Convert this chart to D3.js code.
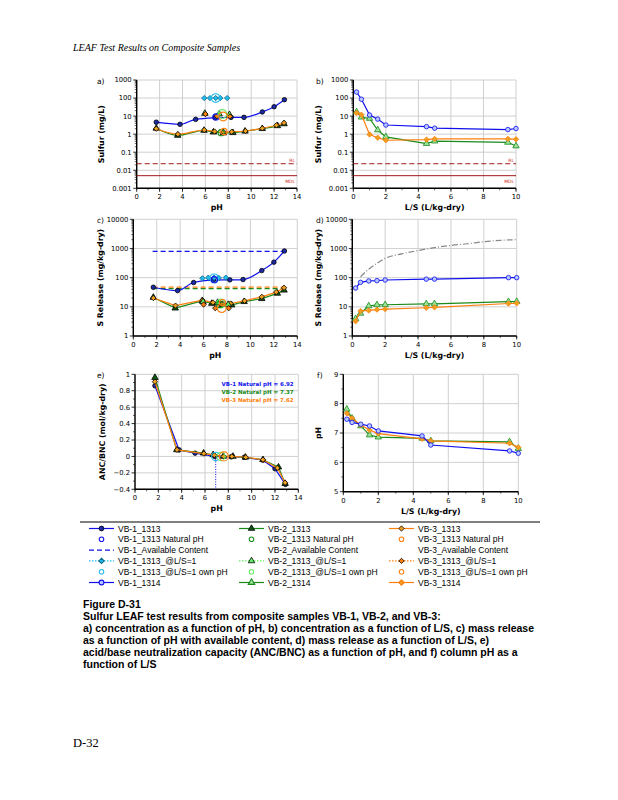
<!DOCTYPE html>
<html>
<head>
<meta charset="utf-8">
<script src="https://cdnjs.cloudflare.com/ajax/libs/d3/7.8.5/d3.min.js"></script>
<style>
  body { margin: 0; background: #fff; }
  svg { display: block; }
  text { font-family: "DejaVu Sans", Verdana, sans-serif; }
</style>
</head>
<body>
<div id="graph"></div>
<script>
// ---- data ----
// 1313 (pH dependence)
var vb1_pH   = [1.71, 3.78, 5.15, 6.84, 8.24, 9.37, 10.97, 12.0, 12.9]
var vb1_conc = [4.6, 3.5, 6.6, 8.1, 8.5, 8.5, 17, 33, 81]
var vb1_rel  = [47, 36, 68, 82, 84, 86, 175, 340, 820]
var vb1_anc  = [0.86, 0.08, 0.04, 0.0, -0.005, -0.01, -0.045, -0.15, -0.34]

var vb2_pH   = [1.71, 3.58, 5.88, 6.7, 7.57, 8.4, 9.46, 10.97, 12.3, 12.87]
var vb2_conc = [2.1, 0.85, 1.6, 1.3, 1.15, 1.2, 1.45, 2.0, 2.9, 3.7]
var vb2_rel  = [21, 9, 16, 13, 12, 11.5, 15, 19, 29, 37]
var vb2_anc  = [0.96, 0.08, 0.04, 0.02, 0.0, 0.0, -0.01, -0.04, -0.13, -0.33]

var vb3_pH   = [1.71, 3.6, 5.9, 6.8, 7.6, 8.3, 9.5, 10.97, 12.2, 12.87]
var vb3_conc = [2.0, 1.0, 1.7, 1.4, 1.3, 1.35, 1.5, 2.1, 3.1, 4.2]
var vb3_rel  = [20, 11, 17, 14, 13, 13, 16, 22, 32, 45]
var vb3_anc  = [0.91, 0.08, 0.035, 0.015, 0.0, 0.0, -0.01, -0.04, -0.14, -0.32]

// natural pH points
var natPH   = [6.92, 7.37, 7.62]
var natConc = [9.0, 1.2, 1.4]
var natRel  = [85, 12, 14]

// @L/S=1 points (pH, conc, release)
var ls1_vb1_pH = [5.9, 6.4, 6.9, 7.3, 7.9]
var ls1_vb1_conc = [100, 100, 100, 100, 100]
var ls1_vb1_rel = [95, 100, 100, 98, 100]
var ls1_vb2_pH = [5.95, 7.2, 8.1]
var ls1_vb2_conc = [14, 13, 12]
var ls1_vb2_rel = [15, 14, 12]
var ls1_vb3_pH = [6.0, 7.0, 8.15]
var ls1_vb3_conc = [13, 10, 9.5]
var ls1_vb3_rel = [12, 9, 9]
var ownPH = [6.9, 7.48, 7.55]
var ownConc = [100, 13, 9.5]
var ownRel = [95, 13, 9]

// available content (mg/kg-dry)
var availPH = [1.65, 12.87]
var avail = [790, 42, 47]

// 1314 (column, L/S)
var ls = [0.2, 0.5, 1.0, 1.5, 2.0, 4.5, 5.0, 9.5, 10.0]
var vb1_1314_conc = [215, 86, 11.5, 6.8, 3.2, 2.6, 2.15, 1.8, 2.05]
var vb2_1314_conc = [17, 8.7, 7.4, 1.7, 0.71, 0.30, 0.41, 0.35, 0.22]
var vb3_1314_conc = [15, 12, 0.96, 0.63, 0.46, 0.5, 0.55, 0.55, 0.52]
var vb1_cum = [44, 69, 77, 79, 83, 89, 89, 100, 100]
var vb2_cum = [3.9, 6, 10.7, 11.7, 11.8, 12.6, 12.7, 15, 15.2]
var vb3_cum = [3.2, 7.2, 7.5, 8, 8.3, 9.3, 9.6, 13, 13.2]
var vb1_colpH = [7.47, 7.36, 7.3, 7.24, 7.07, 6.9, 6.59, 6.39, 6.31]
var vb2_colpH = [7.81, 7.5, 7.24, 6.93, 6.86, 6.82, 6.73, 6.7, 6.47]
var vb3_colpH = [7.67, 7.5, 7.27, 7.1, 6.98, 6.8, 6.73, 6.65, 6.51]

// grey dash-dot curve in d)
var greyLS  = [0.5, 1.0, 1.5, 2, 3, 4, 5, 6, 7, 8, 9, 10]
var greyRel = [107, 195, 310, 460, 650, 850, 1070, 1270, 1450, 1700, 1900, 2000]

// reporting limits in a) and b)
var limits = [0.023, 0.005]
var limitLabels = ['RL', 'MDL']

var legendCols = [
  ['VB-1_1313', 'VB-1_1313 Natural pH', 'VB-1_Available Content', 'VB-1_1313_@L/S=1', 'VB-1_1313_@L/S=1 own pH', 'VB-1_1314'],
  ['VB-2_1313', 'VB-2_1313 Natural pH', 'VB-2_Available Content', 'VB-2_1313_@L/S=1', 'VB-2_1313_@L/S=1 own pH', 'VB-2_1314'],
  ['VB-3_1313', 'VB-3_1313 Natural pH', 'VB-3_Available Content', 'VB-3_1313_@L/S=1', 'VB-3_1313_@L/S=1 own pH', 'VB-3_1314']
]

var captionLines = [
  'Figure D-31',
  'Sulfur LEAF test results from composite samples VB-1, VB-2, and VB-3:',
  'a) concentration as a function of pH, b) concentration as a function of L/S, c) mass release',
  'as a function of pH with available content, d) mass release as a function of L/S, e)',
  'acid/base neutralization capacity (ANC/BNC) as a function of pH, and f) column pH as a',
  'function of L/S'
]

// ---- colours ----
var blue = '#1010ee', dblue = '#1a2aa8', green = '#1a8a1a', dgreen = '#105a10',
    orange = '#ff7f0e', gold = '#f0a020', cyan = '#22bbee', lgreen = '#66ee66',
    dred = '#a01818'

var svg = d3.select('#graph').append('svg').attr('width', 618).attr('height', 800)

svg.append('text').attr('x', 73).attr('y', 51)
  .style('font-family', '"Liberation Serif", serif').style('font-style', 'italic')
  .attr('font-size', 10).text('LEAF Test Results on Composite Samples')

svg.append('text').attr('x', 73).attr('y', 747)
  .style('font-family', '"Liberation Serif", serif')
  .attr('font-size', 12.5).text('D-32')

var DIAM = d3.symbolDiamond2, TRI = d3.symbolTriangle, CIRC = d3.symbolCircle

function sym(type, size) {
  return d3.symbol().type(type).size(size)()
}

// generic panel
function panel(o) {
  var g = svg.append('g')
  var x = d3.scaleLinear().domain(o.xd).range([o.l, o.r])
  var y = (o.log ? d3.scaleLog() : d3.scaleLinear()).domain(o.yd).range([o.b, o.t])

  // grid
  g.selectAll('line.gx').data(o.xt).enter().append('line')
    .attr('x1', d => x(d)).attr('x2', d => x(d)).attr('y1', o.t).attr('y2', o.b)
    .attr('stroke', '#cbcbcb').attr('stroke-width', 0.9)
  g.selectAll('line.gy').data(o.yt).enter().append('line')
    .attr('x1', o.l).attr('x2', o.r).attr('y1', d => y(d)).attr('y2', d => y(d))
    .attr('stroke', '#cbcbcb').attr('stroke-width', 0.9)

  // minor ticks
  var minorY = []
  if (o.log) {
    o.yt.forEach(function(d, i) {
      if (i < o.yt.length - 1) for (var k = 2; k < 10; k++) minorY.push(d * k)
    })
  } else {
    minorY = o.yminor || []
  }
  g.selectAll('line.my').data(minorY).enter().append('line')
    .attr('x1', o.l - 2).attr('x2', o.l).attr('y1', d => y(d)).attr('y2', d => y(d))
    .attr('stroke', '#000').attr('stroke-width', 0.6)
  g.selectAll('line.ty').data(o.yt).enter().append('line')
    .attr('x1', o.l - 3.5).attr('x2', o.l).attr('y1', d => y(d)).attr('y2', d => y(d))
    .attr('stroke', '#000').attr('stroke-width', 0.8)
  var minorX = d3.range(o.xd[0], o.xd[1] + 0.01, o.xminor)
  g.selectAll('line.mx').data(minorX).enter().append('line')
    .attr('x1', d => x(d)).attr('x2', d => x(d)).attr('y1', o.b).attr('y2', o.b + 2)
    .attr('stroke', '#000').attr('stroke-width', 0.6)
  g.selectAll('line.tx').data(o.xt).enter().append('line')
    .attr('x1', d => x(d)).attr('x2', d => x(d)).attr('y1', o.b).attr('y2', o.b + 3.5)
    .attr('stroke', '#000').attr('stroke-width', 0.8)

  g.append('line').attr('x1', o.l).attr('x2', o.l).attr('y1', o.t).attr('y2', o.b)
    .attr('stroke', '#000').attr('stroke-width', 1.4)
  g.append('line').attr('x1', o.l).attr('x2', o.r).attr('y1', o.b).attr('y2', o.b)
    .attr('stroke', '#000').attr('stroke-width', 1.4)

  // tick labels
  g.selectAll('text.xl').data(o.xt).enter().append('text')
    .attr('x', d => x(d)).attr('y', o.b + 11).attr('text-anchor', 'middle')
    .attr('font-size', 6.8).text(d => d)
  g.selectAll('text.yl').data(o.yt).enter().append('text')
    .attr('x', o.l - 5).attr('y', d => y(d) + 2.4).attr('text-anchor', 'end')
    .attr('font-size', 6.8).text(o.yfmt || (d => d))

  // titles
  g.append('text').attr('x', (o.l + o.r) / 2).attr('y', o.b + 22).attr('text-anchor', 'middle')
    .attr('font-size', 7.8).attr('font-weight', 'bold').text(o.xlab)
  g.append('text').attr('transform', 'translate(' + o.ylx + ',' + ((o.t + o.b) / 2) + ') rotate(-90)')
    .attr('text-anchor', 'middle').attr('font-size', 7.8).attr('font-weight', 'bold').text(o.ylab)
  g.append('text').attr('x', o.lx).attr('y', o.t + 4).attr('font-size', 7.5).text(o.letter)

  return { g: g, x: x, y: y }
}

function series(p, xs, ys, o) {
  var pts = xs.map((d, i) => [d, ys[i]])
  if (o.stroke) {
    p.g.append('path').datum(pts)
      .attr('d', d3.line().x(d => p.x(d[0])).y(d => p.y(d[1])).curve(o.curve || d3.curveLinear))
      .attr('fill', 'none').attr('stroke', o.stroke).attr('stroke-width', o.sw || 1.2)
      .attr('stroke-dasharray', o.dash || null)
  }
  if (o.shape) {
    var sz = o.size || (o.shape == CIRC ? 16 : 18)
    p.g.selectAll(null).data(pts).enter().append('path')
      .attr('d', sym(o.shape, sz))
      .attr('transform', d => 'translate(' + p.x(d[0]) + ',' + p.y(d[1]) + ')')
      .attr('fill', o.fill || 'none').attr('stroke', o.mstroke || '#000')
      .attr('stroke-width', o.msw || 0.8)
  }
}

var logFmt = d => d >= 1 ? d3.format('d')(d) : d3.format('')(d)

function ownAndNat(p, xs, ysOwn, ysNat) {
  var cols = [[cyan, blue], [lgreen, green], [orange, orange]]
  xs.forEach(function(v, i) {
    series(p, [ownPH[i]], [ysOwn[i]], { shape: CIRC, size: 60, mstroke: cols[i][0], msw: 1.1 })
    series(p, [natPH[i]], [ysNat[i]], { shape: CIRC, size: 30, mstroke: cols[i][1], msw: 1.1 })
  })
}

// ---- a) ----
var pa = panel({ l: 136.7, r: 297, t: 80, b: 188.3, xd: [0, 14], yd: [0.001, 1000], log: true,
  xt: d3.range(0, 15, 2), yt: [0.001, 0.01, 0.1, 1, 10, 100, 1000], xminor: 1,
  xlab: 'pH', ylab: 'Sulfur (mg/L)', ylx: 104, letter: 'a)', lx: 97, yfmt: logFmt })
limits.forEach(function(v, i) {
  pa.g.append('line').attr('x1', pa.x(0)).attr('x2', pa.x(14)).attr('y1', pa.y(v)).attr('y2', pa.y(v))
    .attr('stroke', dred).attr('stroke-width', 1).attr('stroke-dasharray', i == 0 ? '5,3' : null)
  pa.g.append('text').attr('x', pa.x(14) - 2).attr('y', pa.y(v) + (i == 0 ? -2 : 7)).attr('text-anchor', 'end')
    .attr('font-size', 4.5).attr('fill', '#cc2222').text(limitLabels[i])
})
series(pa, vb2_pH, vb2_conc, { stroke: green, curve: d3.curveMonotoneX, shape: TRI, fill: dgreen })
series(pa, vb3_pH, vb3_conc, { stroke: orange, curve: d3.curveMonotoneX, shape: DIAM, fill: gold })
series(pa, vb1_pH, vb1_conc, { stroke: blue, curve: d3.curveMonotoneX, shape: CIRC, fill: dblue })
series(pa, ls1_vb1_pH, ls1_vb1_conc, { shape: DIAM, fill: cyan, mstroke: '#0a6a8a' })
series(pa, ls1_vb2_pH, ls1_vb2_conc, { shape: TRI, fill: lgreen, mstroke: '#000' })
series(pa, ls1_vb3_pH, ls1_vb3_conc, { shape: DIAM, fill: orange, mstroke: '#000' })
ownAndNat(pa, ownPH, ownConc, natConc)

// ---- b) ----
var pb = panel({ l: 353.3, r: 516, t: 80, b: 188.3, xd: [0, 10], yd: [0.001, 1000], log: true,
  xt: d3.range(0, 11, 2), yt: [0.001, 0.01, 0.1, 1, 10, 100, 1000], xminor: 1,
  xlab: 'L/S (L/kg-dry)', ylab: 'Sulfur (mg/L)', ylx: 321, letter: 'b)', lx: 316, yfmt: logFmt })
limits.forEach(function(v, i) {
  pb.g.append('line').attr('x1', pb.x(0)).attr('x2', pb.x(10)).attr('y1', pb.y(v)).attr('y2', pb.y(v))
    .attr('stroke', dred).attr('stroke-width', 1).attr('stroke-dasharray', i == 0 ? '5,3' : null)
  pb.g.append('text').attr('x', pb.x(10) - 2).attr('y', pb.y(v) + (i == 0 ? -2 : 7)).attr('text-anchor', 'end')
    .attr('font-size', 4.5).attr('fill', '#cc2222').text(limitLabels[i])
})
series(pb, ls, vb2_1314_conc, { stroke: green, shape: TRI, fill: '#9be29b', mstroke: green })
series(pb, ls, vb3_1314_conc, { stroke: orange, shape: DIAM, fill: gold, mstroke: orange })
series(pb, ls, vb1_1314_conc, { stroke: blue, shape: CIRC, fill: '#b8c8ff', mstroke: blue })

// ---- c) ----
var pc = panel({ l: 133.3, r: 297.3, t: 219.3, b: 336, xd: [0, 14], yd: [1, 10000], log: true,
  xt: d3.range(0, 15, 2), yt: [1, 10, 100, 1000, 10000], xminor: 1,
  xlab: 'pH', ylab: 'S Release (mg/kg-dry)', ylx: 103, letter: 'c)', lx: 97, yfmt: logFmt })
series(pc, availPH, [avail[0], avail[0]], { stroke: blue, dash: '5,3' })
series(pc, availPH, [avail[1], avail[1]], { stroke: green, dash: '5,3' })
series(pc, availPH, [avail[2], avail[2]], { stroke: orange, dash: '5,3' })
series(pc, vb2_pH, vb2_rel, { stroke: green, shape: TRI, fill: dgreen })
series(pc, vb3_pH, vb3_rel, { stroke: orange, shape: DIAM, fill: gold })
series(pc, vb1_pH, vb1_rel, { stroke: blue, curve: d3.curveMonotoneX, shape: CIRC, fill: dblue })
series(pc, ls1_vb1_pH, ls1_vb1_rel, { shape: DIAM, fill: cyan, mstroke: '#0a6a8a' })
series(pc, ls1_vb2_pH, ls1_vb2_rel, { shape: TRI, fill: lgreen })
series(pc, ls1_vb3_pH, ls1_vb3_rel, { shape: DIAM, fill: orange })
ownAndNat(pc, ownPH, ownRel, natRel)

// ---- d) ----
var pd = panel({ l: 352.3, r: 516.7, t: 219.3, b: 336, xd: [0, 10], yd: [1, 10000], log: true,
  xt: d3.range(0, 11, 2), yt: [1, 10, 100, 1000, 10000], xminor: 1,
  xlab: 'L/S (L/kg-dry)', ylab: 'S Release (mg/kg-dry)', ylx: 321, letter: 'd)', lx: 316, yfmt: logFmt })
series(pd, greyLS, greyRel, { stroke: '#888', dash: '6,2,1,2', curve: d3.curveMonotoneX })
series(pd, ls, vb2_cum, { stroke: green, shape: TRI, fill: '#9be29b', mstroke: green })
series(pd, ls, vb3_cum, { stroke: orange, shape: DIAM, fill: gold, mstroke: orange })
series(pd, ls, vb1_cum, { stroke: blue, shape: CIRC, fill: '#b8c8ff', mstroke: blue })

// ---- e) ----
var pe = panel({ l: 135, r: 298.3, t: 374.3, b: 489.3, xd: [0, 14], yd: [-0.4, 1], log: false,
  xt: d3.range(0, 15, 2), yt: [-0.4, -0.2, 0, 0.2, 0.4, 0.6, 0.8, 1], xminor: 1,
  yminor: [-0.3, -0.1, 0.1, 0.3, 0.5, 0.7, 0.9],
  xlab: 'pH', ylab: 'ANC/BNC (mol/kg-dry)', ylx: 105, letter: 'e)', lx: 97, yfmt: d3.format('') })
pe.g.append('line').attr('x1', pe.x(natPH[0])).attr('x2', pe.x(natPH[0]))
  .attr('y1', pe.y(0)).attr('y2', pe.y(-0.4))
  .attr('stroke', blue).attr('stroke-width', 1).attr('stroke-dasharray', '1,1.5')
series(pe, vb1_pH, vb1_anc, { stroke: blue, shape: CIRC, fill: dblue })
series(pe, vb2_pH, vb2_anc, { stroke: green, shape: TRI, fill: dgreen })
series(pe, vb3_pH, vb3_anc, { stroke: orange, shape: DIAM, fill: gold })
series(pe, [natPH[0]], [0], { shape: CIRC, size: 55, mstroke: cyan, msw: 1.1 })
series(pe, [natPH[1]], [0], { shape: CIRC, size: 55, mstroke: lgreen, msw: 1.1 })
series(pe, [natPH[2]], [0], { shape: CIRC, size: 65, mstroke: orange, msw: 1.1 })
var natCols = [blue, green, orange]
natPH.forEach(function(v, i) {
  pe.g.append('text').attr('x', pe.x(13.6)).attr('y', pe.y(0.86 - i * 0.1)).attr('text-anchor', 'end')
    .attr('font-size', 5.5).attr('font-weight', 'bold').attr('fill', natCols[i])
    .text('VB-' + (i + 1) + ' Natural pH = ' + v)
})

// ---- f) ----
var pf = panel({ l: 343.3, r: 518.3, t: 374.3, b: 491.7, xd: [0, 10], yd: [5, 9], log: false,
  xt: d3.range(0, 11, 2), yt: [5, 6, 7, 8, 9], xminor: 1, yminor: [5.5, 6.5, 7.5, 8.5],
  xlab: 'L/S (L/kg-dry)', ylab: 'pH', ylx: 321, letter: 'f)', lx: 317 })
series(pf, ls, vb2_colpH, { stroke: green, shape: TRI, fill: '#9be29b', mstroke: green })
series(pf, ls, vb3_colpH, { stroke: orange, shape: DIAM, fill: gold, mstroke: orange })
series(pf, ls, vb1_colpH, { stroke: blue, shape: CIRC, fill: '#b8c8ff', mstroke: blue })

// ---- legend ----
svg.append('line').attr('x1', 80).attr('x2', 540).attr('y1', 522).attr('y2', 522)
  .attr('stroke', '#000').attr('stroke-width', 1)

var legStyles = [
  [ { stroke: blue, shape: CIRC, fill: dblue },
    { shape: CIRC, mstroke: blue, size: 16 },
    { stroke: blue, dash: '5,3' },
    { stroke: cyan, dash: '1.5,1.5', shape: DIAM, fill: cyan, mstroke: '#0a6a8a' },
    { shape: CIRC, mstroke: cyan, size: 16 },
    { stroke: blue, shape: CIRC, fill: '#b8c8ff', mstroke: blue } ],
  [ { stroke: green, shape: TRI, fill: dgreen },
    { shape: CIRC, mstroke: green, size: 16 },
    {},
    { stroke: lgreen, dash: '1.5,1.5', shape: TRI, fill: lgreen },
    { shape: CIRC, mstroke: lgreen, size: 16 },
    { stroke: green, shape: TRI, fill: '#9be29b', mstroke: green } ],
  [ { stroke: orange, shape: DIAM, fill: gold },
    { shape: CIRC, mstroke: orange, size: 16 },
    {},
    { stroke: orange, dash: '1.5,1.5', shape: DIAM, fill: orange },
    { shape: CIRC, mstroke: orange, size: 16 },
    { stroke: orange, shape: DIAM, fill: gold, mstroke: orange } ]
]
var legX = [89, 239, 389]
legendCols.forEach(function(col, ci) {
  col.forEach(function(label, ri) {
    var yy = 528.5 + ri * 10.8
    var st = legStyles[ci][ri]
    var lg = svg.append('g').attr('transform', 'translate(' + legX[ci] + ',' + yy + ')')
    if (st.stroke) lg.append('line').attr('x1', 0).attr('x2', 25).attr('stroke', st.stroke)
      .attr('stroke-width', 1.2).attr('stroke-dasharray', st.dash || null)
    if (st.shape) lg.append('path').attr('d', sym(st.shape, st.size || 18))
      .attr('transform', 'translate(12.5,0)').attr('fill', st.fill || 'none')
      .attr('stroke', st.mstroke || '#000').attr('stroke-width', st.mstroke ? 1.1 : 0.8)
    lg.append('text').attr('x', 29).attr('y', 3).attr('font-size', 8.5)
      .style('font-family', '"Liberation Sans", Arial, sans-serif').text(label)
  })
})

// ---- caption ----
svg.selectAll('text.cap').data(captionLines).enter().append('text')
  .attr('x', 83).attr('y', (d, i) => 608 + i * 12)
  .style('font-family', '"Liberation Sans", Arial, sans-serif')
  .attr('font-size', 10.5).attr('font-weight', 'bold').text(d => d)
</script>
</body>
</html>
